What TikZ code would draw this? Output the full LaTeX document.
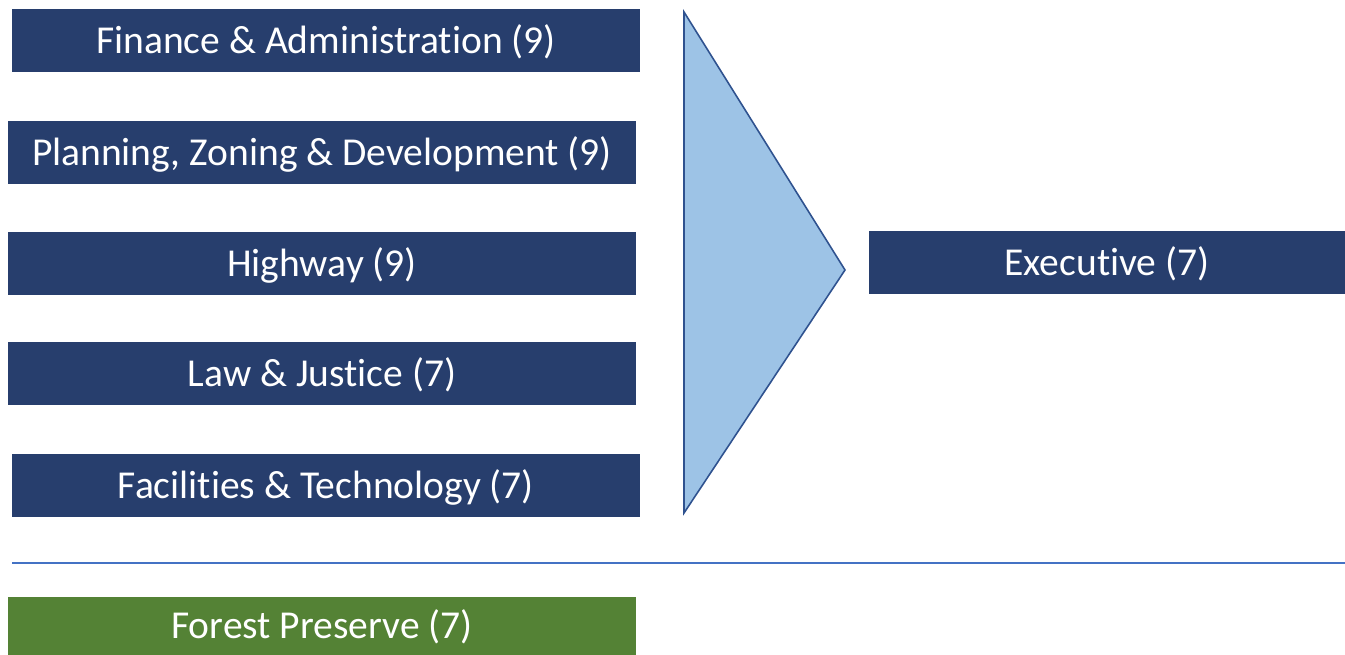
\documentclass[tikz,border=0pt]{standalone}
\usepackage{fontspec}
\setmainfont[Ligatures=NoCommon]{Carlito}
\usepackage{tikz}
\usetikzlibrary{positioning}

\definecolor{boxblue}{RGB}{39,62,109}
\definecolor{boxgreen}{RGB}{84,130,53}
\definecolor{arrowfill}{RGB}{157,195,230}
\definecolor{arrowedge}{RGB}{47,82,143}
\definecolor{rulecolor}{RGB}{68,114,196}

\begin{document}
\begin{tikzpicture}[x=0.02cm, y=-0.02cm,
    committee/.style={rectangle, fill=boxblue, text=white, inner sep=0pt,
      minimum width=12.56cm, minimum height=1.26cm,
      text height=19pt, text depth=4.4pt,
      font=\fontsize{22.5}{27}\selectfont},
    preserve/.style={committee, fill=boxgreen, minimum height=1.16cm}]

      % Page size
      \useasboundingbox (0,0) rectangle (1345,655);

      % Committees on the left
      \node[committee] (finance) at (326,40.5) {Finance \& Administration (9)};
      \node[committee] (planning) at (322,152.5) {Planning, Zoning \& Development (9)};
      \node[committee] (highway) at (322,263.5) {Highway (9)};
      \node[committee] (law) at (322,373.5) {Law \& Justice (7)};
      \node[committee] (facilities) at (326,485.5) {Facilities \& Technology (7)};

      % Big arrow head
      \draw[fill=arrowfill, draw=arrowedge, line width=0.9pt, line join=miter]
        (684,12) -- (845,270) -- (684,513) -- cycle;

      % Result
      \node[committee, minimum width=9.52cm] (executive) at (1107,262.5) {Executive (7)};

      % Separator
      \coordinate (ruleleft) at (12,563);
      \coordinate (ruleright) at (1345,563);
      \draw[rulecolor, line width=0.6pt] (ruleleft) -- (ruleright);

      \node[preserve] (forest) at (322,626) {Forest Preserve (7)};
    \end{tikzpicture}
\end{document}
